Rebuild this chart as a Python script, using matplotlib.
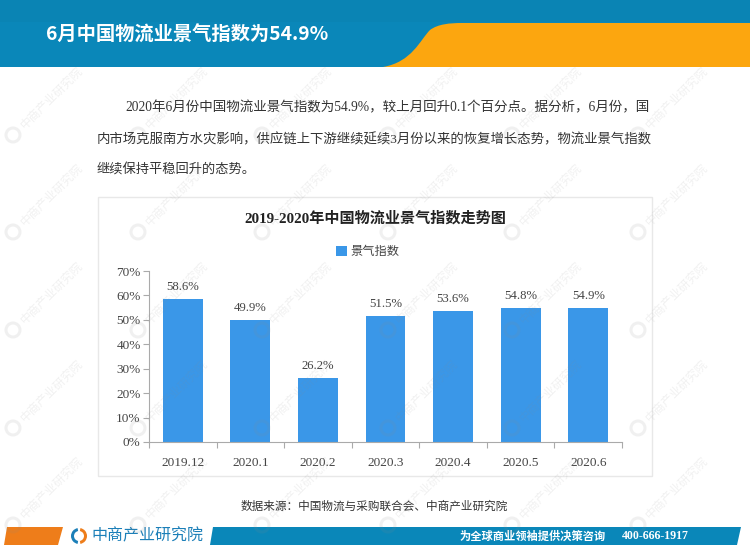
import matplotlib
matplotlib.use('Agg')
import matplotlib.pyplot as plt
from matplotlib.patches import Circle, Path, PathPatch, Polygon, Rectangle, Wedge
from typing import List

plt.rcParams['font.family'] = ['Liberation Serif', 'Noto Sans CJK SC', 'DejaVu Sans']

MONTHS = ['2019.12', '2020.1', '2020.2', '2020.3', '2020.4', '2020.5', '2020.6']
VALUES = [58.6, 49.9, 26.2, 51.5, 53.6, 54.8, 54.9]

def draw_page():
    """
    Draw the banner, the paragraph and the footer on a page axes measured in pixels.
    """
    plt.axes([0, 0, 1, 1])
    plt.xlim(0, 750)
    plt.ylim(550, 0)
    plt.axis('off')
    ax = plt.gca()

    # Top banner
    ax.add_patch(Rectangle((0, 0), 750, 67, color='#0a87b9', lw=0))
    ax.add_patch(Rectangle((0, 0), 750, 22, color='#0a84b4', lw=0))
    curve = Path([(383, 67), (412, 62), (420, 40), (430, 30), (438, 24), (450, 23), (462, 23),
                  (750, 23), (750, 67), (383, 67)],
                 [Path.MOVETO, Path.CURVE4, Path.CURVE4, Path.CURVE4, Path.CURVE4, Path.CURVE4,
                  Path.CURVE4, Path.LINETO, Path.LINETO, Path.CLOSEPOLY])
    ax.add_patch(PathPatch(curve, facecolor='#fca60f', lw=0))
    plt.text(46, 35, '6月中国物流业景气指数为54.9%', color='white', fontsize=13.9,
             fontweight='bold', va='center', family=['Noto Sans CJK SC'])

    # Paragraph
    lines = [(125, 107.5, 9.75, '2020年6月份中国物流业景气指数为54.9%，较上月回升0.1个百分点。据分析，6月份，国'),
             (97, 139.5, 9.65, '内市场克服南方水灾影响，供应链上下游继续延续3月份以来的恢复增长态势，物流业景气指数'),
             (97, 169.5, 9.5, '继续保持平稳回升的态势。')]
    for x, y, size, line in lines:
        plt.text(x, y, line, color='#333333', fontsize=size, va='center')

    # Chart card
    ax.add_patch(Rectangle((98, 197), 554, 279, facecolor='white', edgecolor='#e8e8e8', lw=1))
    plt.text(241, 507, '数据来源：中国物流与采购联合会、中商产业研究院', color='#333333',
             fontsize=8.35, va='center')

    # Footer
    ax.add_patch(Polygon([(7, 527), (63, 527), (58, 545), (4, 545)], color='#ee7d1a', lw=0))
    ax.add_patch(Polygon([(213, 527), (741, 527), (737, 545), (210, 545)], color='#0a87b9', lw=0))
    ax.add_patch(Wedge((79, 536), 8, 100, 260, width=3, color='#1b7fb8', lw=0))
    ax.add_patch(Wedge((79, 536), 8, -80, 80, width=3, color='#ee7d1a', lw=0))
    plt.text(91, 536, '中商产业研究院', color='#1b7fb8', fontsize=11.5, va='center',
             family=['Noto Sans CJK SC'])
    plt.text(460, 536, '为全球商业领袖提供决策咨询', color='white', fontsize=8.1,
             fontweight='bold', va='center')
    plt.text(622, 536, '400-666-1917', color='white', fontsize=8.6, fontweight='bold', va='center')

def draw_chart(months: List[str], values: List[float]):
    """
    Draw the bar chart inside the card.

    :param months: The category labels
    :param values: The index value of each month, in percent
    """
    plt.axes([149 / 750, 1 - 442 / 550, 473 / 750, 171 / 550], facecolor='none')
    positions = list(range(len(months)))
    plt.bar(positions, values, width=0.59, color='#3a97e8', label='景气指数')
    for x, value in zip(positions, values):
        plt.text(x, value + 2.5, f'{value}%', ha='center', va='bottom', fontsize=9.2, color='#444444')

    plt.xlim(-0.5, len(months) - 0.5)
    plt.ylim(0, 70)
    plt.yticks(range(0, 71, 10), [f'{v}%' for v in range(0, 71, 10)], fontsize=9.5, color='#444444')
    plt.xticks([p - 0.5 for p in range(len(months) + 1)], [])
    plt.xticks(positions, months, minor=True, fontsize=9.5, color='#444444')
    plt.tick_params(axis='both', which='major', color='#aaaaaa', length=4, width=0.8)
    plt.tick_params(axis='x', which='minor', length=0, pad=11)
    plt.tick_params(axis='y', pad=2)

    ax = plt.gca()
    ax.spines[['top', 'right']].set_visible(False)
    ax.spines[['left', 'bottom']].set_color('#aaaaaa')

    plt.title('2019-2020年中国物流业景气指数走势图', fontsize=10.9, fontweight='bold',
              color='#222222', x=226 / 473, y=1.26, va='center')
    plt.legend(loc='center', bbox_to_anchor=(219 / 473, 1.11), frameon=False, fontsize=8.8,
               handlelength=0.9, handleheight=0.9, handletextpad=0.3, labelcolor='#444444')

def draw_watermarks():
    """
    Lay the faint repeated watermark over the whole page.
    """
    plt.axes([0, 0, 1, 1], facecolor='none')
    plt.xlim(0, 750)
    plt.ylim(550, 0)
    plt.axis('off')
    ax = plt.gca()
    for y in [135, 232, 330, 428, 525]:
        for x in [13, 138, 262, 388, 512, 638]:
            ax.add_patch(Circle((x, y), 7, fill=False, edgecolor='#8a8a8a', lw=2.2, alpha=0.12))
            plt.text(x + 10, y - 8, '中商产业研究院', rotation=45, rotation_mode='anchor',
                     fontsize=8.5, color='#8a8a8a', alpha=0.12, va='center',
                     family=['Noto Sans CJK SC'])

def main():
    plt.figure(figsize=(7.5, 5.5), dpi=100)
    draw_page()
    draw_chart(MONTHS, VALUES)
    draw_watermarks()
    plt.savefig('out.png', dpi=100)
    plt.close()

if __name__ == "__main__":
    main()
